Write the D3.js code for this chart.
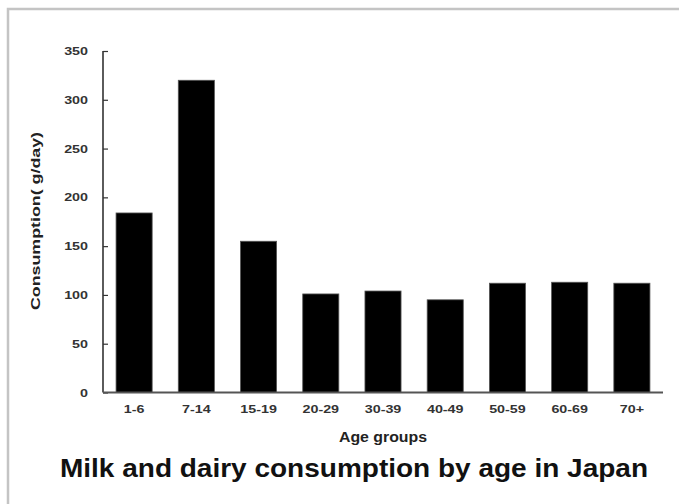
<!DOCTYPE html>
<html>
<head>
<meta charset="utf-8">
<script src="https://cdn.jsdelivr.net/npm/d3@7"></script>
<style>
  html, body { margin: 0; padding: 0; background: #fff; overflow: hidden; }
  svg { display: block; font-family: "Liberation Sans", Arial, sans-serif; }
</style>
</head>
<body>
<svg id="chart" width="679" height="504"></svg>
<script>
const categories = ["1-6", "7-14", "15-19", "20-29", "30-39", "40-49", "50-59", "60-69", "70+"];
const values = [184, 320, 155, 101, 104, 95, 112, 113, 112];
const yTicks = [0, 50, 100, 150, 200, 250, 300, 350];
const yTitle = "Consumption( g/day)";
const xTitle = "Age groups";
const chartTitle = "Milk and dairy consumption by age in Japan";

const svg = d3.select("#chart");

// outer frame (only top and left edges are visible in the picture)
svg.append("path")
  .attr("d", "M8,560V9H700")
  .attr("fill", "none").attr("stroke", "#c4c4c4").attr("stroke-width", 2.5);

const mLeft = 103, mRight = 663, mTop = 51, mBottom = 392.5;

const x = d3.scaleBand().domain(categories).range([mLeft, mRight])
  .paddingInner(0.42).paddingOuter(0.21);
const y = d3.scaleLinear().domain([0, 350]).range([mBottom, mTop]);

function stretch(sel, factor) {
  sel.each(function () {
    const len = this.getComputedTextLength();
    d3.select(this).attr("textLength", len * factor).attr("lengthAdjust", "spacingAndGlyphs");
  });
}

// bars
svg.append("g").selectAll("rect").data(values).join("rect")
  .attr("x", (d, i) => x(categories[i]))
  .attr("y", d => y(d))
  .attr("width", x.bandwidth())
  .attr("height", d => y(0) - y(d))
  .attr("fill", "#000")
  .attr("stroke", "#555").attr("stroke-width", 0.8);

// y axis
const yAxis = d3.axisLeft(y).tickValues(yTicks).tickSize(-5).tickPadding(15).tickFormat(d3.format("d"));
const gy = svg.append("g").attr("transform", `translate(${mLeft},0)`).call(yAxis);
gy.select(".domain").attr("stroke", "#333").attr("stroke-width", 1.6).attr("d", `M0,${mTop}V${mBottom}`);
gy.selectAll(".tick line").attr("stroke", "#333").attr("stroke-width", 1.2);
gy.selectAll(".tick text").attr("font-size", 11).attr("font-weight", "bold").attr("fill", "#333")
  .attr("font-family", "'Liberation Sans', Arial, sans-serif");
stretch(gy.selectAll(".tick text"), 1.3);

// x axis
const xAxis = d3.axisBottom(x).tickSize(0).tickPadding(13);
const gx = svg.append("g").attr("transform", `translate(0,${mBottom})`).call(xAxis);
gx.select(".domain").attr("stroke", "#555").attr("stroke-width", 2).attr("d", `M${mLeft},0H${mRight}`);
gx.selectAll(".tick text").attr("font-size", 11).attr("font-weight", "bold").attr("fill", "#333")
  .attr("font-family", "'Liberation Sans', Arial, sans-serif");
stretch(gx.selectAll(".tick text"), 1.3);

// y title
svg.append("text")
  .attr("transform", `translate(40,${(132 + 310) / 2}) rotate(-90)`)
  .attr("text-anchor", "middle")
  .attr("font-size", 13).attr("font-weight", "bold").attr("fill", "#222")
  .attr("textLength", 178).attr("lengthAdjust", "spacingAndGlyphs")
  .text(yTitle);

// x title
svg.append("text")
  .attr("x", 383).attr("y", 442)
  .attr("text-anchor", "middle")
  .attr("font-size", 14).attr("font-weight", "bold").attr("fill", "#222")
  .attr("textLength", 88).attr("lengthAdjust", "spacingAndGlyphs")
  .text(xTitle);

// chart title
svg.append("text")
  .attr("x", 354).attr("y", 477)
  .attr("text-anchor", "middle")
  .attr("font-size", 25).attr("font-weight", "bold").attr("fill", "#111")
  .attr("textLength", 588).attr("lengthAdjust", "spacingAndGlyphs")
  .text(chartTitle);
</script>
</body>
</html>
